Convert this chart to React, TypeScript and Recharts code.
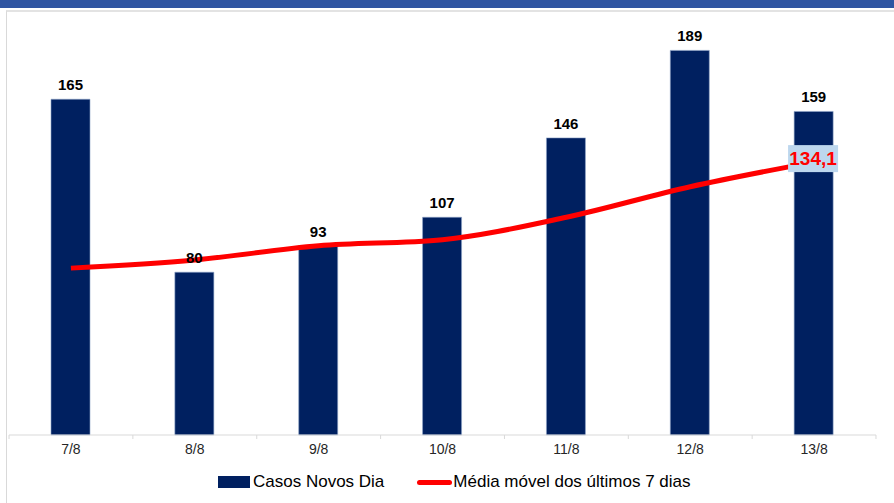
import React from 'react'
import { ComposedChart, Bar, Line, XAxis, YAxis, LabelList, Legend } from 'recharts'

const dias = ['7/8', '8/8', '9/8', '10/8', '11/8', '12/8', '13/8']
const casosNovos = [165, 80, 93, 107, 146, 189, 159]
const mediaMovel = [82, 86, 93, 96, 107, 122, 134.1]

const data = dias.map((dia, i) => ({
  dia,
  casos: casosNovos[i],
  media: mediaMovel[i],
}))

const NAVY = '#002060'
const RED = '#FF0000'
const FONT = '"Liberation Sans", Arial, sans-serif'

// rótulo de categoria + marcas nos limites das categorias
const DiaTick = (props: any) => {
  const { x, y, payload, index } = props
  const half = 61.9
  return (
    <g>
      <line x1={x - half} y1={y - 8} x2={x - half} y2={y - 4} stroke="#D9D9D9" />
      {index === dias.length - 1 && (
        <line x1={x + half} y1={y - 8} x2={x + half} y2={y - 4} stroke="#D9D9D9" />
      )}
      <text x={x} y={y} dy={11} textAnchor="middle" fontSize={14} fill="#262626" fontFamily={FONT}>
        {payload.value}
      </text>
    </g>
  )
}

// só o último ponto da média leva rótulo
const MediaLabel = (props: any) => {
  const { x, y, value, index } = props
  if (index !== mediaMovel.length - 1) return null
  const txt = String(value).replace('.', ',')
  return (
    <g>
      <rect x={x - 26} y={y - 17} width={50} height={27} fill="#BDD7EE" />
      <text x={x - 1} y={y + 3} textAnchor="middle" fontSize={19} fontWeight="bold" fill={RED} fontFamily={FONT}>
        {txt}
      </text>
    </g>
  )
}

const LegendContent = () => (
  <div style={{ display: 'flex', alignItems: 'center', fontFamily: FONT, fontSize: 17, color: '#000' }}>
    <span style={{ display: 'inline-block', width: 32, height: 12, background: NAVY, marginRight: 3 }} />
    <span>Casos Novos Dia</span>
    <span
      style={{ display: 'inline-block', width: 35, height: 5, borderRadius: 3, background: RED, marginLeft: 33, marginRight: 1 }}
    />
    <span>Média móvel dos últimos 7 dias</span>
  </div>
)

export default function App() {
  return (
    <div style={{ position: 'absolute', left: 0, top: 0, width: 894, height: 503, background: '#fff', overflow: 'hidden' }}>
      <div style={{ position: 'absolute', left: 0, top: 0, width: 894, height: 8, background: '#2F55A2' }} />
      <div
        style={{
          position: 'absolute',
          left: 6,
          top: 10,
          width: 900,
          height: 500,
          borderLeft: '1px solid #D9D9D9',
          borderTop: '2px solid #E3E3E3',
        }}
      />
      <div style={{ position: 'absolute', left: 0, top: 0 }}>
        <ComposedChart width={894} height={503} data={data} margin={{ top: 28, right: 18, bottom: 38, left: 9 }}>
          <XAxis
            dataKey="dia"
            axisLine={{ stroke: '#D9D9D9' }}
            tickLine={false}
            tickSize={6}
            tickMargin={2}
            height={30}
            interval={0}
            tick={<DiaTick />}
          />
          <YAxis hide domain={[0, 200]} />
          <Legend
            verticalAlign="middle"
            align="center"
            layout="horizontal"
            content={<LegendContent />}
            wrapperStyle={{ top: 472, left: 218, width: 640 }}
          />
          <Bar dataKey="casos" name="Casos Novos Dia" fill={NAVY} stroke="#8FA4C8" strokeWidth={0.6} barSize={39} isAnimationActive={false}>
            <LabelList dataKey="casos" position="top" offset={9} fontSize={15} fontWeight="bold" fill="#000" fontFamily={FONT} />
          </Bar>
          <Line
            dataKey="media"
            name="Média móvel dos últimos 7 dias"
            type="monotone"
            stroke={RED}
            strokeWidth={5}
            dot={false}
            isAnimationActive={false}
          >
            <LabelList dataKey="media" content={<MediaLabel />} />
          </Line>
        </ComposedChart>
      </div>
    </div>
  )
}
